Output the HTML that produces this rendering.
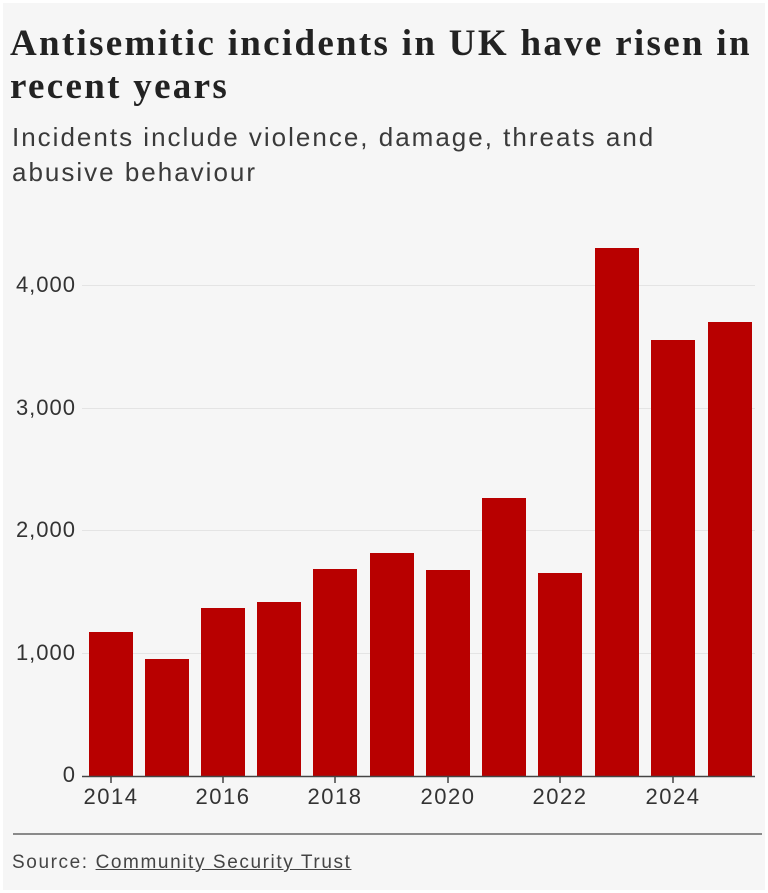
<!DOCTYPE html>
<html><head><style>
body{margin:0;background:#fff;font-family:"Liberation Sans",sans-serif;color:#222;}
.c{position:absolute;left:3px;top:3px;width:762px;height:887px;background:#f6f6f6;}
.t{position:absolute;left:10px;top:22px;font-family:"Liberation Serif",serif;font-weight:bold;font-size:37px;line-height:43px;color:#222;letter-spacing:2.3px;white-space:nowrap}
.s{position:absolute;left:12px;top:120px;font-size:26px;line-height:35px;color:#3a3a3a;white-space:nowrap;letter-spacing:2px}
.y{position:absolute;font-size:22px;color:#333;text-align:right;width:76px;left:0px;letter-spacing:1px}
.x{position:absolute;font-size:22px;color:#333;width:80px;text-align:center;top:784px;letter-spacing:1.5px}
.src{position:absolute;left:12px;top:852px;font-size:19px;color:#444;letter-spacing:1.6px}
.src u{text-decoration:underline}
</style></head><body><div class="c"></div>
<div style="position:absolute;left:0;top:0;width:768px;height:893px">
<div class="t">Antisemitic incidents in UK have risen in<br>recent years</div>
<div class="s">Incidents include violence, damage, threats and<br>abusive behaviour</div>
<div class="y" style="top:272px">4,000</div>
<div class="y" style="top:395px">3,000</div>
<div class="y" style="top:517px">2,000</div>
<div class="y" style="top:640px">1,000</div>
<div class="y" style="top:762px">0</div>
<svg style="position:absolute;left:0;top:0" width="768" height="893">
<g stroke="#e4e4e4" stroke-width="1">
<line x1="82" x2="755" y1="285.5" y2="285.5"/><line x1="82" x2="755" y1="408.5" y2="408.5"/>
<line x1="82" x2="755" y1="530.5" y2="530.5"/><line x1="82" x2="755" y1="653.5" y2="653.5"/>
</g>
<g fill="#b80000">
<rect x="89" y="632" width="44" height="144"/>
<rect x="145" y="659" width="44" height="117"/>
<rect x="201" y="608" width="44" height="168"/>
<rect x="257" y="602" width="44" height="174"/>
<rect x="313" y="569" width="44" height="207"/>
<rect x="370" y="553" width="44" height="223"/>
<rect x="426" y="570" width="44" height="206"/>
<rect x="482" y="498" width="44" height="278"/>
<rect x="538" y="573" width="44" height="203"/>
<rect x="595" y="248" width="44" height="528"/>
<rect x="651" y="340" width="44" height="436"/>
<rect x="708" y="322" width="44" height="454"/>
</g>
<line x1="82" x2="755" y1="776.5" y2="776.5" stroke="#444" stroke-width="1.5"/>
<g stroke="#444" stroke-width="1.5">
<line x1="111" x2="111" y1="776" y2="783"/><line x1="223" x2="223" y1="776" y2="783"/>
<line x1="335" x2="335" y1="776" y2="783"/><line x1="448" x2="448" y1="776" y2="783"/>
<line x1="560" x2="560" y1="776" y2="783"/><line x1="673" x2="673" y1="776" y2="783"/>
</g>
<line x1="13" x2="762" y1="834" y2="834" stroke="#666" stroke-width="1.5"/>
</svg>
<div class="x" style="left:71px">2014</div>
<div class="x" style="left:183px">2016</div>
<div class="x" style="left:295px">2018</div>
<div class="x" style="left:408px">2020</div>
<div class="x" style="left:520px">2022</div>
<div class="x" style="left:633px">2024</div>
<div class="src">Source: <u>Community Security Trust</u></div>
</div>
</body></html>
